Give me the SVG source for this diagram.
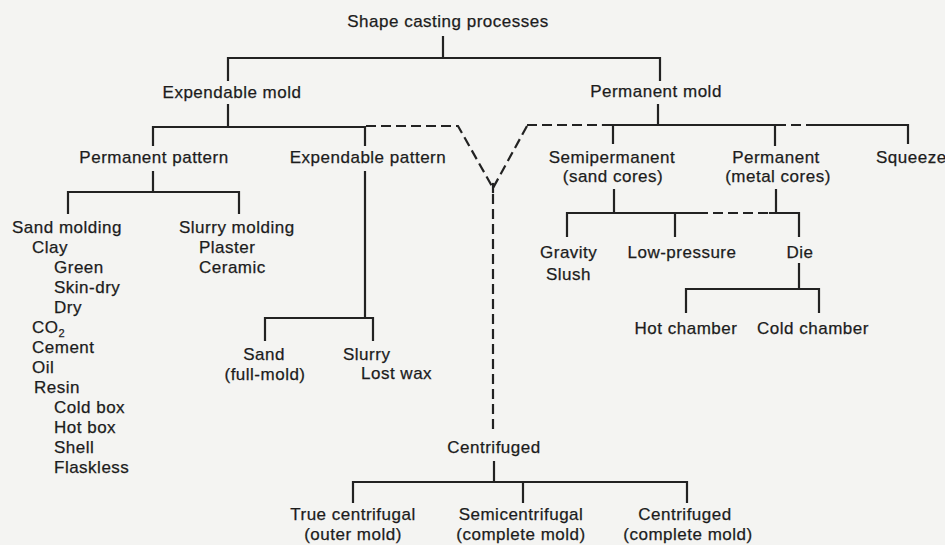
<svg xmlns="http://www.w3.org/2000/svg" width="945" height="545" viewBox="0 0 945 545">
<style>
text{font-family:"Liberation Sans",Arial,sans-serif;font-size:17px;fill:#1c1c1c;stroke:#1c1c1c;stroke-width:0.25;letter-spacing:0.5px}
.m{text-anchor:middle}
.c path{fill:none;stroke:#222;stroke-width:2.2;stroke-linecap:square}
.c .d{stroke-dasharray:10 5;stroke-linecap:butt}
</style>
<rect width="945" height="545" fill="#f4f4f2"/>
<g class="c" id="connectors">
<path d="M443 37V58M228 58H660M228 58V80M660 58V80"/>
<path d="M228 105V127M153 127H365M153 127V145M365 127V145"/>
<path d="M153 172V192M68 192H239M68 192V213M239 192V213"/>
<path d="M365 172V318M265 318H373M265 318V340M373 318V340"/>
<path class="d" d="M366 126H458L493 188M527 126L493 188"/>
<path d="M493 184V192"/>
<path class="d" d="M493 194V430"/>
<path class="d" d="M527 125H603"/>
<path d="M658 105V125M603 125H775M613 125V143M775 125V145M813 125H908V143"/>
<path class="d" d="M776 125H813"/>
<path d="M614 190V213M567 213H697M567 213V236M675 213V236M770 213H799V236M776 190V213"/>
<path class="d" d="M698 213H770"/>
<path d="M799 264V289M686 289H819M686 289V312M819 289V312"/>
<path d="M494 462V482M353 482H687M353 482V502M523 482V502M687 482V502"/>
</g>
<g id="n-root"><text class="m" x="448" y="27">Shape casting processes</text></g>
<g id="n-expendable-mold"><text class="m" x="232" y="98">Expendable mold</text></g>
<g id="n-permanent-mold"><text class="m" x="656" y="97">Permanent mold</text></g>
<g id="n-permanent-pattern"><text class="m" x="154" y="163">Permanent pattern</text></g>
<g id="n-expendable-pattern"><text class="m" x="368" y="163">Expendable pattern</text></g>
<g id="n-semipermanent"><text class="m" x="612" y="163">Semipermanent</text><text class="m" x="613" y="182">(sand cores)</text></g>
<g id="n-permanent"><text class="m" x="776" y="163">Permanent</text><text class="m" x="778" y="182">(metal cores)</text></g>
<g id="n-squeeze"><text x="876" y="163">Squeeze</text></g>
<g id="n-sand-molding">
<text x="12" y="233">Sand molding</text>
<text x="32" y="253">Clay</text>
<text x="54" y="273">Green</text>
<text x="54" y="293">Skin-dry</text>
<text x="54" y="313">Dry</text>
<text x="32" y="333">CO<tspan font-size="11" dy="4">2</tspan></text>
<text x="32" y="353">Cement</text>
<text x="32" y="373">Oil</text>
<text x="34" y="393">Resin</text>
<text x="54" y="413">Cold box</text>
<text x="54" y="433">Hot box</text>
<text x="54" y="453">Shell</text>
<text x="54" y="473">Flaskless</text>
</g>
<g id="n-slurry-molding">
<text x="179" y="233">Slurry molding</text>
<text x="199" y="253">Plaster</text>
<text x="199" y="273">Ceramic</text>
</g>
<g id="n-sand-full"><text class="m" x="264" y="360">Sand</text><text class="m" x="265" y="380">(full-mold)</text></g>
<g id="n-slurry"><text x="343" y="360">Slurry</text><text x="361" y="379">Lost wax</text></g>
<g id="n-gravity"><text x="540" y="258">Gravity</text><text x="546" y="280">Slush</text></g>
<g id="n-low-pressure"><text class="m" x="682" y="258">Low-pressure</text></g>
<g id="n-die"><text class="m" x="800" y="258">Die</text></g>
<g id="n-hot-chamber"><text class="m" x="686" y="334">Hot chamber</text></g>
<g id="n-cold-chamber"><text class="m" x="813" y="334">Cold chamber</text></g>
<g id="n-centrifuged"><text class="m" x="494" y="453">Centrifuged</text></g>
<g id="n-true-centrifugal"><text class="m" x="353" y="520">True centrifugal</text><text class="m" x="353" y="540">(outer mold)</text></g>
<g id="n-semicentrifugal"><text class="m" x="521" y="520">Semicentrifugal</text><text class="m" x="521" y="540">(complete mold)</text></g>
<g id="n-centrifuged-complete"><text class="m" x="685" y="520">Centrifuged</text><text class="m" x="688" y="540">(complete mold)</text></g>
</svg>
